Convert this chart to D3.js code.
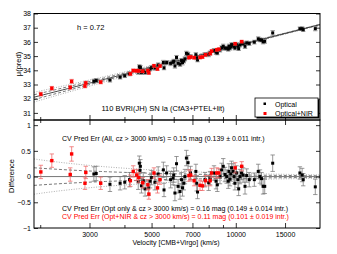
<!DOCTYPE html>
<html>
<head>
<meta charset="utf-8">
<script src="https://cdn.jsdelivr.net/npm/d3@7"></script>
<style>
  body { margin: 0; background: #fff; }
  svg { font-family: "Liberation Sans", Arial, sans-serif; }
</style>
</head>
<body>
<svg id="chart" width="337" height="254"></svg>
<script>
// hubble constant used for mu(pred) curve
var hubbleH = 0.72;

// optical only SNe: velocity (km/s), residual (mag), error (mag)
var optVel = [3110,3170,3550,3860,4010,4170,4480,4520,4545,4560,4600,4670,4740,4870,4940,5000,5140,5280,5510,5540,
  5660,5850,5970,6000,6060,6140,6220,6320,6400,6450,6520,6580,6660,6750,6890,7200,7250,7300,7760,8000,
  8090,8360,8500,8590,8780,8900,9020,9150,9280,9400,9450,9530,9600,9660,9780,9860,9930,10060,10180,10240,
  10350,10480,10620,10790,10940,11170,11650,12030,12200,12360,12520,12690,13550,16950,17270,17420,19240];
var optDiff = [0.05,0.06,-0.15,-0.13,-0.11,-0.06,-0.10,0.26,0.12,0.20,-0.18,-0.08,-0.24,-0.22,-0.09,-0.02,-0.11,0.05,0.13,-0.26,
  0.07,-0.06,-0.03,0.03,-0.32,0.25,-0.19,-0.29,-0.06,-0.22,-0.13,0.00,0.36,0.27,0.07,0.10,-0.13,-0.30,-0.06,-0.12,
  -0.03,0.07,-0.09,-0.16,0.00,0.13,0.20,0.04,0.00,-0.09,0.10,-0.05,0.05,0.17,0.10,0.00,-0.13,0.07,-0.06,-0.24,
  0.00,0.07,0.03,-0.19,0.02,-0.06,-0.06,0.10,0.00,-0.04,-0.19,-0.19,0.26,0.07,0.03,-0.06,-0.20];
var optErr = [0.14,0.14,0.14,0.13,0.13,0.14,0.15,0.14,0.15,0.13,0.14,0.16,0.14,0.15,0.13,0.14,0.15,0.14,0.15,0.13,
  0.14,0.16,0.13,0.14,0.15,0.14,0.13,0.15,0.14,0.16,0.13,0.14,0.15,0.14,0.13,0.14,0.15,0.13,0.14,0.15,
  0.13,0.14,0.15,0.13,0.14,0.13,0.15,0.14,0.13,0.14,0.15,0.13,0.14,0.13,0.15,0.14,0.13,0.14,0.15,0.13,
  0.14,0.13,0.14,0.15,0.13,0.14,0.13,0.14,0.13,0.12,0.15,0.14,0.16,0.12,0.13,0.12,0.15];

// optical + NIR SNe
var nirVel = [2010,2200,2560,2590,2890,2910,3290,4200,4300,4420,4500,4650,4850,4890,5100,5250,5360,
  6800,6900,7100,7450,7600,7800,8100,8200,8550,8700,9950,10500];
var nirDiff = [0.09,0.31,0.04,0.44,-0.13,0.08,-0.13,-0.08,0.10,0.03,-0.02,-0.12,-0.16,-0.34,0.07,-0.22,-0.06,
  0.02,0.03,-0.08,-0.17,-0.18,-0.08,-0.08,0.07,0.07,0.07,0.17,0.20];
var nirErr = [0.13,0.13,0.13,0.14,0.12,0.12,0.12,0.11,0.11,0.11,0.10,0.10,0.10,0.10,0.10,0.10,0.09,
  0.11,0.10,0.10,0.10,0.09,0.10,0.10,0.09,0.10,0.09,0.10,0.09];

// peculiar velocity envelopes (km/s)
var pecVel = [150, 300];

var majorTicks = [3000, 5000, 7000, 10000, 15000];
var minorTicks = [2000, 4000, 6000, 8000, 9000];
var muTicks = [31, 32, 33, 34, 35, 36, 37, 38];
var diffTicks = [-1, -0.5, 0, 0.5, 1];

var svg = d3.select("#chart");
var left = 34, right = 320;

var x = d3.scaleLog().domain([1900, 20000]).range([left, right]);
var yTop = d3.scaleLinear().domain([30.5, 38]).range([120, 13.5]);
var yBot = d3.scaleLinear().domain([-1, 1.1]).range([228, 120]);

function hubble(v) { return 5 * Math.log10(v / (100 * hubbleH)) + 25; }
function envelope(v, s) { return 5 / Math.LN10 * s / v; }

var opt = optVel.map(function(v, i) { return {v: v, d: optDiff[i], e: optErr[i]}; });
var nir = nirVel.map(function(v, i) { return {v: v, d: nirDiff[i], e: nirErr[i]}; });

svg.append("clipPath").attr("id", "clipTop").append("rect")
  .attr("x", left).attr("y", yTop(38)).attr("width", right - left).attr("height", 120 - yTop(38));
svg.append("clipPath").attr("id", "clipBot").append("rect")
  .attr("x", left).attr("y", 120).attr("width", right - left).attr("height", 108);

var vGrid = d3.range(0, 61).map(function(i) { return 1900 * Math.pow(20000 / 1900, i / 60); });

// ---- top panel curves
var gTop = svg.append("g").attr("clip-path", "url(#clipTop)");
var lineTop = d3.line().x(function(d) { return x(d[0]); }).y(function(d) { return yTop(d[1]); });
pecVel.forEach(function(s, k) {
  [-1, 1].forEach(function(sg) {
    gTop.append("path")
      .attr("d", lineTop(vGrid.map(function(v) { return [v, hubble(v) + sg * envelope(v, s)]; })))
      .attr("fill", "none")
      .attr("stroke", k == 0 ? "#555" : "#999")
      .attr("stroke-width", 0.8)
      .attr("stroke-dasharray", k == 0 ? "3,2" : "1,1.5");
  });
});
gTop.append("path")
  .attr("d", lineTop(vGrid.map(function(v) { return [v, hubble(v)]; })))
  .attr("fill", "none").attr("stroke", "#333").attr("stroke-width", 0.9);

// ---- bottom panel curves
var gBot = svg.append("g").attr("clip-path", "url(#clipBot)");
var lineBot = d3.line().x(function(d) { return x(d[0]); }).y(function(d) { return yBot(d[1]); });
pecVel.forEach(function(s, k) {
  [-1, 1].forEach(function(sg) {
    gBot.append("path")
      .attr("d", lineBot(vGrid.map(function(v) { return [v, sg * envelope(v, s)]; })))
      .attr("fill", "none")
      .attr("stroke", k == 0 ? "#555" : "#999")
      .attr("stroke-width", 0.8)
      .attr("stroke-dasharray", k == 0 ? "3,2" : "1,1.5");
  });
});
gBot.append("line")
  .attr("x1", left).attr("x2", right).attr("y1", yBot(0)).attr("y2", yBot(0))
  .attr("stroke", "#777").attr("stroke-width", 1);

// error bars + points
function drawSet(g, data, yf, val, barColor, dotColor, size) {
  var eb = g.append("g").attr("stroke", barColor).attr("stroke-width", 0.75);
  data.forEach(function(d) {
    var cx = x(d.v), y0 = yf(val(d) - d.e), y1 = yf(val(d) + d.e);
    eb.append("line").attr("x1", cx).attr("x2", cx).attr("y1", y0).attr("y2", y1);
    eb.append("line").attr("x1", cx - 2.2).attr("x2", cx + 2.2).attr("y1", y0).attr("y2", y0);
    eb.append("line").attr("x1", cx - 2.2).attr("x2", cx + 2.2).attr("y1", y1).attr("y2", y1);
  });
  g.selectAll(null).data(data).enter().append("rect")
    .attr("x", function(d) { return x(d.v) - size / 2; })
    .attr("y", function(d) { return yf(val(d)) - size / 2; })
    .attr("width", size).attr("height", size)
    .attr("fill", dotColor);
}
var muVal = function(d) { return hubble(d.v) + d.d; };
var dVal = function(d) { return d.d; };
drawSet(gTop, opt, yTop, muVal, "#777", "#000", 3);
drawSet(gTop, nir, yTop, muVal, "#e66", "#f00", 3.4);
drawSet(gBot, opt, yBot, dVal, "#777", "#000", 3);
drawSet(gBot, nir, yBot, dVal, "#e66", "#f00", 3.4);

// ---- axes
function styleAxis(g) {
  g.select(".domain").remove();
  g.selectAll("line").attr("stroke", "#000").attr("stroke-width", 0.8);
  g.selectAll("text").attr("font-size", 7).attr("fill", "#000")
    .attr("font-family", "Liberation Sans, Arial, sans-serif");
}
svg.append("g").attr("transform", "translate(" + left + ",0)")
  .call(d3.axisLeft(yTop).tickValues(muTicks).tickSize(-4).tickPadding(3)).call(styleAxis);
svg.append("g").attr("transform", "translate(" + right + ",0)")
  .call(d3.axisRight(yTop).tickValues(muTicks).tickSize(-4).tickFormat("")).call(styleAxis);
svg.append("g").attr("transform", "translate(" + left + ",0)")
  .call(d3.axisLeft(yBot).tickValues(diffTicks).tickSize(-4).tickPadding(3)
    .tickFormat(function(d) { return d3.format("")(d).replace("-", "\u2212"); })).call(styleAxis);
svg.append("g").attr("transform", "translate(" + right + ",0)")
  .call(d3.axisRight(yBot).tickValues(diffTicks).tickSize(-4).tickFormat("")).call(styleAxis);

// x ticks: bottom of top panel, top of bottom panel, bottom of bottom panel
svg.append("g").attr("transform", "translate(0,120)")
  .call(d3.axisBottom(x).tickValues(majorTicks).tickSize(-5).tickFormat("")).call(styleAxis);
svg.append("g").attr("transform", "translate(0,120)")
  .call(d3.axisBottom(x).tickValues(minorTicks).tickSize(-3).tickFormat("")).call(styleAxis);
svg.append("g").attr("transform", "translate(0,120)")
  .call(d3.axisTop(x).tickValues(majorTicks).tickSize(-5).tickFormat("")).call(styleAxis);
svg.append("g").attr("transform", "translate(0,120)")
  .call(d3.axisTop(x).tickValues(minorTicks).tickSize(-3).tickFormat("")).call(styleAxis);
svg.append("g").attr("transform", "translate(0,228)")
  .call(d3.axisBottom(x).tickValues(majorTicks).tickSize(-5).tickPadding(4).tickFormat(d3.format("d"))).call(styleAxis);
svg.append("g").attr("transform", "translate(0,228)")
  .call(d3.axisBottom(x).tickValues(minorTicks).tickSize(-3).tickFormat("")).call(styleAxis);

// frames
svg.append("rect").attr("x", left).attr("y", yTop(38)).attr("width", right - left).attr("height", 120 - yTop(38))
  .attr("fill", "none").attr("stroke", "#000").attr("stroke-width", 1);
svg.append("rect").attr("x", left).attr("y", 120).attr("width", right - left).attr("height", 108)
  .attr("fill", "none").attr("stroke", "#000").attr("stroke-width", 1);

// ---- labels
function label(txt, tx, ty, opts) {
  opts = opts || {};
  var t = svg.append("text").attr("x", tx).attr("y", ty)
    .attr("font-size", opts.size || 7)
    .attr("fill", opts.color || "#000")
    .attr("text-anchor", opts.anchor || "start")
    .text(txt);
  if (opts.rotate) t.attr("transform", "rotate(-90," + tx + "," + ty + ")");
  return t;
}
label("h = 0.72", 77, 30, {size: 7.5});
label("110 BVRI(JH) SN Ia (CfA3+PTEL+lit)", 163, 110.5, {anchor: "middle", size: 7.5});
label("\u03bc(pred)", 21, 64, {anchor: "middle", rotate: true, size: 7.5});
label("Difference", 14, 176, {anchor: "middle", rotate: true, size: 7.5});
label("CV Pred Err (All, cz > 3000 km/s) = 0.15 mag (0.139 \u00b1 0.011 intr.)", 62, 140.5);
label("CV Pred Err (Opt only & cz > 3000 km/s) = 0.16 mag (0.149 \u00b1 0.014 intr.)", 62, 210.5);
label("CV Pred Err (Opt+NIR & cz > 3000 km/s) = 0.11 mag (0.101 \u00b1 0.019 intr.)", 62, 219, {color: "#f00"});
label("Velocity [CMB+Virgo] (km/s)", 176, 244.5, {anchor: "middle"});

// ---- legend
var lg = svg.append("g").attr("transform", "translate(255,98)");
lg.append("rect").attr("x", 1.5).attr("y", 1.5).attr("width", 63).attr("height", 19).attr("fill", "#000");
lg.append("rect").attr("x", 0).attr("y", 0).attr("width", 63).attr("height", 19)
  .attr("fill", "#fff").attr("stroke", "#000").attr("stroke-width", 0.8);
var legendKeys = ["Optical", "Optical+NIR"];
var legendColors = ["#000", "#f00"];
legendKeys.forEach(function(k, i) {
  lg.append("rect").attr("x", 8.5).attr("y", 4.5 + i * 9.5).attr("width", i ? 3 : 2.5).attr("height", i ? 3 : 2.5)
    .attr("fill", legendColors[i]);
  lg.append("text").attr("x", 20).attr("y", 8.5 + i * 9.5).attr("font-size", 7).text(k);
});
</script>
</body>
</html>
